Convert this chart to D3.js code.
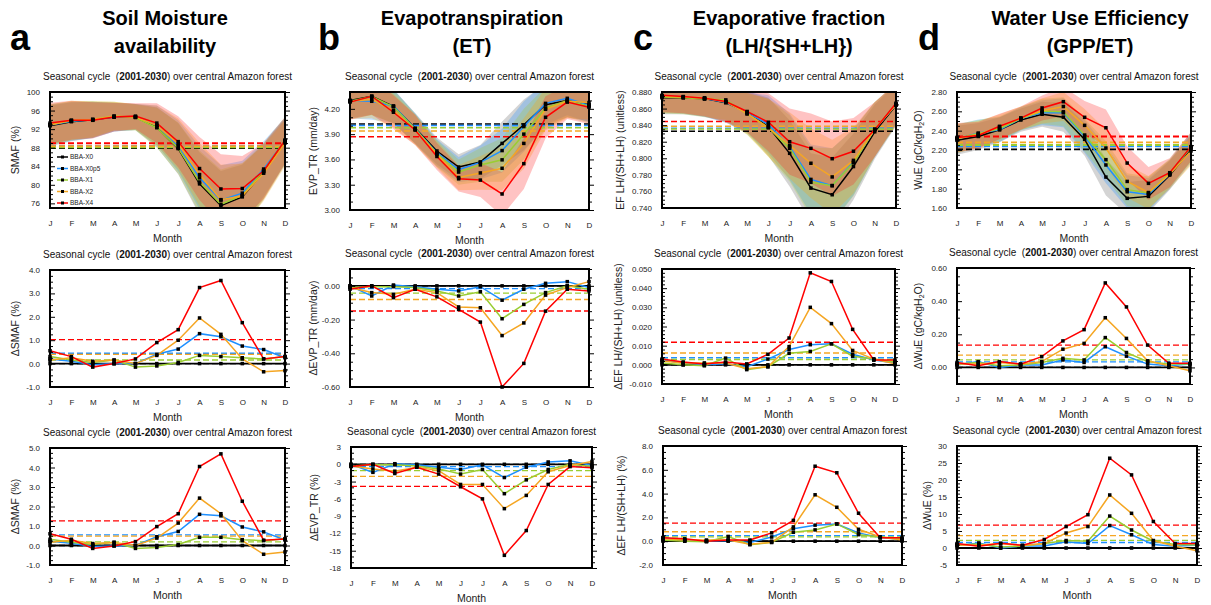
<!DOCTYPE html>
<html>
<head>
<meta charset="utf-8">
<script src="https://cdn.jsdelivr.net/npm/d3@7"></script>
<style>
  body { margin: 0; background: #fff; }
  svg { display: block; font-family: "Liberation Sans", Arial, Helvetica, sans-serif; }
</style>
</head>
<body>
<svg id="chart" width="1211" height="605"></svg>
<script>
// ---- categories and series ----
const months = ["J", "F", "M", "A", "M", "J", "J", "A", "S", "O", "N", "D"];
const seriesNames = ["BBA-X0", "BBA-X0p5", "BBA-X1", "BBA-X2", "BBA-X4"];
const seriesColors = ["#000000", "#1e90ff", "#9acd32", "#f5a623", "#ff0000"];
const bandColors = ["#606060", "#1e90ff", "#9acd32", "#ffa500", "#ff2020"];

// ---- Soil moisture availability (%) ----
const smafAbs = [
  [92.7, 93.6, 94.0, 94.6, 94.6, 92.4, 87.8, 80.2, 75.5, 77.4, 82.8, 89.3],
  [92.9, 93.7, 94.0, 94.6, 94.6, 92.8, 88.4, 81.5, 76.7, 78.2, 83.4, 89.5],
  [93.0, 93.8, 94.1, 94.8, 94.5, 92.3, 87.9, 80.6, 75.8, 77.7, 83.0, 89.6],
  [92.9, 93.9, 94.1, 94.8, 94.6, 92.8, 88.8, 82.2, 76.8, 77.6, 82.5, 89.0],
  [93.3, 93.9, 93.9, 94.6, 94.8, 93.3, 89.3, 83.5, 79.1, 79.2, 83.0, 89.6]
];
const smafSpread = [4.4, 4.2, 3.9, 3.1, 2.8, 4.3, 5.5, 6.8, 7.5, 7.0, 6.0, 5.0];
const smafDiff = [
  [0, 0, 0, 0, 0, 0, 0, 0, 0, 0, 0, 0],
  [0.2, 0.1, -0.05, 0.0, 0.0, 0.4, 0.62, 1.28, 1.15, 0.75, 0.6, 0.25],
  [0.3, 0.15, 0.05, 0.15, -0.15, -0.1, 0.05, 0.35, 0.3, 0.25, 0.2, 0.3],
  [0.15, 0.25, 0.1, 0.15, 0.0, 0.35, 1.0, 1.95, 1.25, 0.2, -0.35, -0.3],
  [0.55, 0.3, -0.15, 0.0, 0.2, 0.9, 1.45, 3.25, 3.55, 1.75, 0.2, 0.3]
];
const smafPct = [
  [0, 0, 0, 0, 0, 0, 0, 0, 0, 0, 0, 0],
  [0.22, 0.12, -0.05, -0.02, 0.0, 0.45, 0.72, 1.6, 1.52, 0.95, 0.7, 0.28],
  [0.32, 0.17, 0.05, 0.17, -0.15, -0.1, 0.05, 0.42, 0.42, 0.3, 0.25, 0.35],
  [0.17, 0.27, 0.1, 0.15, 0.0, 0.38, 1.15, 2.43, 1.63, 0.25, -0.45, -0.33],
  [0.6, 0.32, -0.15, -0.02, 0.2, 0.97, 1.63, 4.05, 4.7, 2.27, 0.27, 0.33]
];

// ---- Evapotranspiration (mm/day) ----
const evpAbs = [
  [4.30, 4.35, 4.23, 3.97, 3.70, 3.51, 3.57, 3.79, 4.01, 4.25, 4.30, 4.25],
  [4.30, 4.29, 4.235, 3.965, 3.68, 3.48, 3.565, 3.705, 3.99, 4.265, 4.325, 4.24],
  [4.29, 4.345, 4.225, 3.96, 3.67, 3.45, 3.535, 3.595, 3.90, 4.21, 4.30, 4.23],
  [4.29, 4.31, 4.18, 3.95, 3.66, 3.385, 3.44, 3.495, 3.79, 4.195, 4.29, 4.275],
  [4.28, 4.35, 4.16, 3.95, 3.635, 3.37, 3.355, 3.19, 3.55, 4.10, 4.28, 4.22]
];
const evpSpread = [0.21, 0.22, 0.2, 0.18, 0.16, 0.15, 0.2, 0.26, 0.3, 0.25, 0.2, 0.2];
const evpDiff = [
  [0, 0, 0, 0, 0, 0, 0, 0, 0, 0, 0, 0],
  [0.0, -0.06, 0.005, -0.005, -0.02, -0.03, -0.005, -0.085, -0.02, 0.015, 0.025, -0.01],
  [-0.01, -0.005, -0.005, -0.01, -0.03, -0.06, -0.035, -0.195, -0.11, -0.04, 0.0, -0.02],
  [-0.01, -0.04, -0.05, -0.02, -0.04, -0.125, -0.13, -0.295, -0.22, -0.055, -0.01, 0.025],
  [-0.02, 0.0, -0.07, -0.02, -0.065, -0.14, -0.215, -0.60, -0.46, -0.15, -0.02, -0.03]
];
const evpPct = [
  [0, 0, 0, 0, 0, 0, 0, 0, 0, 0, 0, 0],
  [0.0, -1.4, 0.1, -0.1, -0.5, -0.9, -0.1, -2.3, -0.5, 0.4, 0.6, -0.2],
  [-0.3, -0.1, -0.1, -0.3, -0.8, -1.7, -0.9, -5.1, -2.7, -0.9, 0.0, -0.4],
  [-0.3, -0.8, -1.2, -0.5, -1.1, -3.5, -3.5, -7.7, -5.4, -1.3, -0.2, 0.5],
  [-0.4, 0.0, -1.6, -0.5, -1.7, -3.9, -6.0, -15.8, -11.5, -3.5, -0.4, -0.6]
];

// ---- Evaporative fraction LH/(SH+LH) ----
const efAbs = [
  [0.873, 0.873, 0.872, 0.867, 0.856, 0.838, 0.806, 0.764, 0.756, 0.790, 0.832, 0.864],
  [0.8755, 0.874, 0.872, 0.8675, 0.855, 0.841, 0.814, 0.7745, 0.767, 0.7955, 0.8345, 0.865],
  [0.874, 0.873, 0.8715, 0.8705, 0.8535, 0.837, 0.812, 0.771, 0.767, 0.7945, 0.835, 0.8655],
  [0.875, 0.874, 0.873, 0.868, 0.854, 0.837, 0.8155, 0.794, 0.7775, 0.7975, 0.835, 0.8645],
  [0.876, 0.8745, 0.8725, 0.8685, 0.8565, 0.8435, 0.820, 0.812, 0.7995, 0.8085, 0.8345, 0.8665]
];
const efSpread = [0.02, 0.02, 0.022, 0.024, 0.025, 0.035, 0.04, 0.042, 0.045, 0.04, 0.033, 0.025];
const efDiff = [
  [0, 0, 0, 0, 0, 0, 0, 0, 0, 0, 0, 0],
  [0.0025, 0.001, 0.0, 0.0005, -0.001, 0.003, 0.008, 0.0105, 0.011, 0.0055, 0.0025, 0.001],
  [0.001, 0.0, -0.0005, 0.0035, -0.0025, -0.001, 0.006, 0.007, 0.011, 0.0045, 0.003, 0.0015],
  [0.002, 0.001, 0.001, 0.001, -0.002, -0.001, 0.0095, 0.030, 0.0215, 0.0075, 0.003, 0.0005],
  [0.003, 0.0015, 0.0005, 0.0015, 0.0005, 0.0055, 0.014, 0.048, 0.0435, 0.0185, 0.0025, 0.0025]
];
const efPct = [
  [0, 0, 0, 0, 0, 0, 0, 0, 0, 0, 0, 0],
  [0.3, 0.1, 0.0, 0.05, -0.1, 0.35, 1.05, 1.35, 1.45, 0.7, 0.3, 0.15],
  [0.1, 0.0, -0.05, 0.4, -0.3, -0.1, 0.75, 0.95, 1.45, 0.55, 0.35, 0.2],
  [0.2, 0.1, 0.1, 0.1, -0.25, -0.1, 1.2, 3.9, 2.85, 1.0, 0.35, 0.1],
  [0.3, 0.2, 0.0, 0.1, 0.1, 0.7, 1.75, 6.3, 5.75, 2.35, 0.3, 0.3]
];

// ---- Water use efficiency (gC/kgH2O) ----
const wueAbs = [
  [2.30, 2.34, 2.41, 2.51, 2.57, 2.54, 2.31, 1.92, 1.70, 1.72, 1.94, 2.21],
  [2.315, 2.375, 2.41, 2.525, 2.585, 2.585, 2.34, 2.045, 1.768, 1.74, 1.95, 2.23],
  [2.32, 2.37, 2.42, 2.525, 2.60, 2.595, 2.355, 2.10, 1.79, 1.755, 1.96, 2.23],
  [2.32, 2.36, 2.44, 2.53, 2.605, 2.65, 2.455, 2.22, 1.875, 1.76, 1.95, 2.19],
  [2.33, 2.35, 2.445, 2.53, 2.635, 2.70, 2.538, 2.43, 2.065, 1.855, 1.965, 2.235]
];
const wueSpread = [0.15, 0.14, 0.13, 0.12, 0.13, 0.15, 0.17, 0.19, 0.17, 0.17, 0.15, 0.15];
const wueDiff = [
  [0, 0, 0, 0, 0, 0, 0, 0, 0, 0, 0, 0],
  [0.015, 0.035, 0.0, 0.015, 0.015, 0.045, 0.03, 0.125, 0.068, 0.02, 0.01, 0.02],
  [0.02, 0.03, 0.01, 0.015, 0.03, 0.055, 0.045, 0.18, 0.09, 0.035, 0.02, 0.02],
  [0.02, 0.02, 0.03, 0.02, 0.035, 0.11, 0.145, 0.30, 0.175, 0.04, 0.01, -0.02],
  [0.03, 0.01, 0.035, 0.02, 0.065, 0.16, 0.228, 0.51, 0.365, 0.135, 0.025, 0.025]
];
const wuePct = [
  [0, 0, 0, 0, 0, 0, 0, 0, 0, 0, 0, 0],
  [0.7, 1.5, 0.0, 0.6, 0.6, 1.8, 1.3, 6.6, 3.9, 1.0, 0.5, 0.9],
  [0.9, 1.2, 0.3, 0.6, 1.3, 2.2, 2.0, 9.4, 5.3, 2.0, 1.0, 0.9],
  [0.9, 0.8, 1.3, 0.7, 1.3, 4.4, 6.3, 15.6, 10.2, 2.2, 0.5, -0.8],
  [1.3, 0.5, 1.4, 0.8, 2.5, 6.3, 9.8, 26.4, 21.5, 7.8, 1.3, 1.3]
];

// ---- column headings ----
const columnLetters = ["a", "b", "c", "d"];
const columnTitles = [
  ["Soil Moisture", "availability"],
  ["Evapotranspiration", "(ET)"],
  ["Evaporative fraction", "(LH/{SH+LH})"],
  ["Water Use Efficiency", "(GPP/ET)"]
];
const panelSubtitle = ["Seasonal cycle  (", "2001-2030", ") over central Amazon forest"];

// ---- layout ----
const svg = d3.select("#chart");
const fmtLocale = d3.formatLocale({ decimal: ".", thousands: ",", grouping: [3], currency: ["", ""], minus: "-" });

const colX = [
  { letter: 10, center: 165 },
  { letter: 318, center: 472 },
  { letter: 633, center: 789 },
  { letter: 918, center: 1090 }
];

const panels = [
  // row 1: absolute seasonal cycles with spread bands
  { values: smafAbs, spread: smafSpread, domain: [75, 100], step: 4, minor: 1, fmt: "d",
    box: [50, 285, 92, 208], ylab: ["SMAF (%)"], ylabX: 15, legend: true, meanW: 1.8 },
  { values: evpAbs, spread: evpSpread, domain: [3.0, 4.4], step: 0.3, minor: 0.1, fmt: ".2f",
    box: [350, 589, 92, 210], ylab: ["EVP_TR (mm/day)"], ylabX: 313, meanW: 1.5 },
  { values: efAbs, spread: efSpread, domain: [0.74, 0.88], step: 0.02, minor: 0.005, fmt: ".3f",
    box: [662, 896, 92, 208], ylab: ["EF LH/(SH+LH) (unitless)"], ylabX: 620, meanW: 1.5 },
  { values: wueAbs, spread: wueSpread, domain: [1.6, 2.8], step: 0.2, minor: 0.05, fmt: ".2f",
    box: [957, 1191, 92, 208], ylab: ["WuE (gC/kgH", "2", "O)"], ylabX: 918, meanW: 1.8 },
  // row 2: absolute differences
  { values: smafDiff, domain: [-1, 4], step: 1, minor: 0.25, fmt: ".1f",
    box: [50, 285, 270, 387], ylab: ["\u0394SMAF (%)"], ylabX: 15, meanW: 1.3 },
  { values: evpDiff, domain: [-0.6, 0.1], step: 0.2, minor: 0.05, fmt: ".2f",
    box: [350, 589, 269, 387], ylab: ["\u0394EVP_TR (mm/day)"], ylabX: 313, meanW: 1.3 },
  { values: efDiff, domain: [-0.01, 0.05], step: 0.01, minor: 0.002, fmt: ".3f",
    box: [662, 895, 269, 384], ylab: ["\u0394EF LH/(SH+LH) (unitless)"], ylabX: 618, meanW: 1.3 },
  { values: wueDiff, domain: [-0.1, 0.6], step: 0.2, minor: 0.05, fmt: ".2f",
    box: [957, 1190, 268, 384], ylab: ["\u0394WuE (gC/kgH", "2", "O)"], ylabX: 918, meanW: 1.3 },
  // row 3: relative differences
  { values: smafPct, domain: [-1, 5], step: 1, minor: 0.25, fmt: ".1f",
    box: [50, 285, 448, 565], ylab: ["\u0394SMAF (%)"], ylabX: 15, meanW: 1.3 },
  { values: evpPct, domain: [-18, 3], step: 3, minor: 1, fmt: "d",
    box: [351, 592, 447, 568], ylab: ["\u0394EVP_TR (%)"], ylabX: 314, meanW: 1.3 },
  { values: efPct, domain: [-2, 8], step: 2, minor: 0.5, fmt: ".1f",
    box: [663, 902, 446, 565], ylab: ["\u0394EF LH/(SH+LH) (%)"], ylabX: 621, meanW: 1.3 },
  { values: wuePct, domain: [-5, 30], step: 5, minor: 1, fmt: "d",
    box: [957, 1197, 446, 565], ylab: ["\u0394WuE (%)"], ylabX: 927, meanW: 1.3 }
];

function tickRange(domain, step) {
  const k0 = Math.ceil(domain[0] / step - 1e-6);
  const k1 = Math.floor(domain[1] / step + 1e-6);
  return d3.range(k0, k1 + 1).map(k => +(k * step).toFixed(6));
}

// ---- headings ----
colX.forEach((c, i) => {
  svg.append("text")
    .attr("x", c.letter).attr("y", 50)
    .attr("font-size", 36).attr("font-weight", "bold")
    .text(columnLetters[i]);
  columnTitles[i].forEach((line, j) => {
    svg.append("text")
      .attr("x", c.center).attr("y", 25 + j * 28)
      .attr("text-anchor", "middle")
      .attr("font-size", 20).attr("font-weight", "bold")
      .text(line);
  });
});

// ---- panels ----
panels.forEach((p, pi) => {
  const [L, R, T, B] = p.box;
  const g = svg.append("g");
  const x = d3.scalePoint().domain(d3.range(months.length)).range([L, R]);
  const y = d3.scaleLinear().domain(p.domain).range([B, T]);

  const clipId = "clip" + pi;
  svg.append("clipPath").attr("id", clipId)
    .append("rect").attr("x", L).attr("y", T).attr("width", R - L).attr("height", B - T);

  // spread bands
  if (p.spread) {
    const bands = g.append("g").attr("clip-path", `url(#${clipId})`);
    p.values.forEach((vals, si) => {
      const area = d3.area()
        .x((d, i) => x(i))
        .y0((d, i) => y(d - p.spread[i]))
        .y1((d, i) => y(d + p.spread[i]));
      bands.append("path")
        .datum(vals)
        .attr("d", area)
        .attr("fill", bandColors[si])
        .attr("fill-opacity", 0.27);
    });
  }

  // annual-mean reference lines
  p.values.forEach((vals, si) => {
    const m = d3.mean(vals);
    g.append("line")
      .attr("x1", L).attr("x2", R)
      .attr("y1", y(m)).attr("y2", y(m))
      .attr("stroke", seriesColors[si])
      .attr("stroke-width", p.meanW)
      .attr("stroke-dasharray", "6,3");
  });

  // series lines
  const line = d3.line().x((d, i) => x(i)).y(d => y(d));
  p.values.forEach((vals, si) => {
    g.append("path")
      .datum(vals)
      .attr("d", line)
      .attr("fill", "none")
      .attr("stroke", seriesColors[si])
      .attr("stroke-width", si === 0 && !p.spread ? 1.8 : 1.5);
  });

  // point markers
  p.values.forEach(vals => {
    g.selectAll(null)
      .data(vals)
      .join("rect")
      .attr("x", (d, i) => x(i) - 1.75)
      .attr("y", d => y(d) - 1.75)
      .attr("width", 3.5).attr("height", 3.5)
      .attr("fill", "#000");
  });

  // frame
  g.append("rect")
    .attr("x", L).attr("y", T).attr("width", R - L).attr("height", B - T)
    .attr("fill", "none").attr("stroke", "#000").attr("stroke-width", 2);

  // y axis, left (labels + inward ticks)
  const majors = tickRange(p.domain, p.step);
  const minors = tickRange(p.domain, p.minor).filter(v => !majors.some(m => Math.abs(m - v) < 1e-6));
  const fmt = fmtLocale.format(p.fmt);

  const yl = g.append("g").attr("transform", `translate(${L},0)`)
    .call(d3.axisLeft(y).tickValues(majors).tickFormat(fmt).tickSize(-5).tickPadding(10));
  yl.select(".domain").remove();
  yl.selectAll("text").attr("font-size", 8).attr("fill", "#222").attr("font-family", null);
  yl.selectAll("line").attr("stroke-width", 1);

  const ylm = g.append("g").attr("transform", `translate(${L},0)`)
    .call(d3.axisLeft(y).tickValues(minors).tickFormat("").tickSize(-3));
  ylm.select(".domain").remove();

  // y axis, right (ticks only)
  const yr = g.append("g").attr("transform", `translate(${R},0)`)
    .call(d3.axisRight(y).tickValues(majors).tickFormat("").tickSize(5));
  yr.select(".domain").remove();
  const yrm = g.append("g").attr("transform", `translate(${R},0)`)
    .call(d3.axisRight(y).tickValues(minors).tickFormat("").tickSize(3));
  yrm.select(".domain").remove();

  // x axis (month initials)
  const xa = g.append("g").attr("transform", `translate(0,${B})`)
    .call(d3.axisBottom(x).tickFormat(i => months[i]).tickSize(0).tickPadding(12));
  xa.select(".domain").remove();
  xa.selectAll("text").attr("font-size", 8).attr("fill", "#222").attr("font-family", null);

  g.append("text")
    .attr("x", (L + R) / 2).attr("y", B + 34)
    .attr("text-anchor", "middle")
    .attr("font-size", 10.5).attr("fill", "#222")
    .text("Month");

  // y axis title
  const yt = g.append("text")
    .attr("transform", `translate(${p.ylabX},${(T + B) / 2}) rotate(-90)`)
    .attr("text-anchor", "middle")
    .attr("dy", "0.35em")
    .attr("font-size", 10.5).attr("fill", "#222");
  if (p.ylab.length === 3) {
    yt.append("tspan").text(p.ylab[0]);
    yt.append("tspan").attr("font-size", 7).attr("dy", 2.5).text(p.ylab[1]);
    yt.append("tspan").attr("dy", -2.5).text(p.ylab[2]);
  } else {
    yt.text(p.ylab[0]);
  }

  // panel subtitle
  const st = g.append("text")
    .attr("x", (L + R) / 2).attr("y", T - 12)
    .attr("text-anchor", "middle")
    .attr("font-size", 10).attr("fill", "#111")
    .style("white-space", "pre");
  st.append("tspan").text(panelSubtitle[0]);
  st.append("tspan").attr("font-weight", "bold").text(panelSubtitle[1]);
  st.append("tspan").text(panelSubtitle[2]);

  // legend
  if (p.legend) {
    const lg = g.append("g");
    seriesNames.forEach((name, si) => {
      const ly = 157 + si * 11.5;
      lg.append("line").attr("x1", 57).attr("x2", 68).attr("y1", ly).attr("y2", ly)
        .attr("stroke", seriesColors[si]).attr("stroke-width", 1.5);
      lg.append("rect").attr("x", 62.5 - 1.5).attr("y", ly - 1.5).attr("width", 3).attr("height", 3)
        .attr("fill", "#000");
      lg.append("text").attr("x", 70).attr("y", ly).attr("dy", "0.35em")
        .attr("font-size", 6.5).attr("fill", "#222").text(name);
    });
  }
});
</script>
</body>
</html>
